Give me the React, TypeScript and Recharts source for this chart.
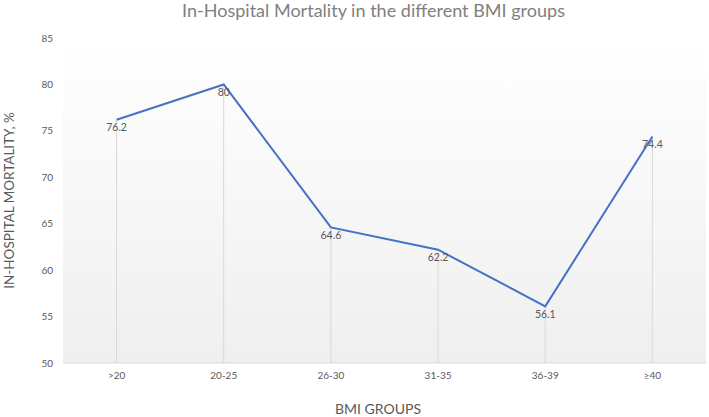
import React from "react";
import {
  ComposedChart,
  Line,
  Bar,
  XAxis,
  YAxis,
  LabelList,
  ReferenceArea,
  Label,
} from "recharts";

const groups = [">20", "20-25", "26-30", "31-35", "36-39", "≥40"];
const mortality = [76.2, 80, 64.6, 62.2, 56.1, 74.4];
const yTicks = [50, 55, 60, 65, 70, 75, 80, 85];

const data = groups.map((g, i) => ({ group: g, value: mortality[i] }));

const FONT = "Lato, 'Open Sans', sans-serif";
const GREY = "#595959";

export default function App() {
  return (
    <div style={{ position: "absolute", left: 0, top: 0, width: 709, height: 417, background: "#fff" }}>
      <svg width={709} height={417} style={{ position: "absolute", left: 0, top: 0 }}>
        <text
          x={182}
          y={17}
          fontSize={18}
          fontFamily={FONT}
          fill="#7f7f7f"
          textLength={383}
          lengthAdjust="spacingAndGlyphs"
        >
          In-Hospital Mortality in the different BMI groups
        </text>
        <text x={378} y={414} textAnchor="middle" fontSize={14} fontFamily={FONT} fill={GREY}>
          BMI GROUPS
        </text>
      </svg>
      <ComposedChart
        width={709}
        height={417}
        data={data}
        margin={{ top: 38, right: 3, bottom: 24, left: 0 }}
        style={{ position: "absolute", left: 0, top: 0 }}
      >
        <defs>
          <linearGradient id="bg" x1="0" y1="0" x2="0" y2="1">
            <stop offset="0%" stopColor="#ffffff" />
            <stop offset="100%" stopColor="#efefef" />
          </linearGradient>
        </defs>
        <ReferenceArea y1={50} y2={85} fill="url(#bg)" fillOpacity={1} stroke="none" ifOverflow="visible" />
        <XAxis
          dataKey="group"
          axisLine={{ stroke: "#d9d9d9" }}
          tickLine={false}
          tickSize={0}
          tickMargin={9}
          tick={{ fontSize: 10, fill: GREY, fontFamily: FONT }}
        />
        <YAxis
          domain={[50, 85]}
          ticks={yTicks}
          width={63}
          axisLine={false}
          tickLine={false}
          tickSize={0}
          tickMargin={10}
          tick={{ fontSize: 10, fill: GREY, fontFamily: FONT }}
        >
          <Label
            content={({ viewBox }: any) => (
              <text
                x={14}
                y={viewBox.y + viewBox.height / 2}
                transform={`rotate(-90 14 ${viewBox.y + viewBox.height / 2})`}
                textAnchor="middle"
                fontSize={13.5}
                fontFamily={FONT}
                fill={GREY}
              >
                IN-HOSPITAL MORTALITY, %
              </text>
            )}
          />
        </YAxis>
        <Bar dataKey="value" barSize={1} fill="#d9d9d9" isAnimationActive={false} />
        <Line
          dataKey="value"
          stroke="#4472c4"
          strokeWidth={2}
          dot={false}
          activeDot={false}
          isAnimationActive={false}
        >
          <LabelList
            dataKey="value"
            position="bottom"
            offset={4}
            style={{ fontSize: 10.5, fill: GREY, fontFamily: FONT }}
          />
        </Line>
      </ComposedChart>
    </div>
  );
}
